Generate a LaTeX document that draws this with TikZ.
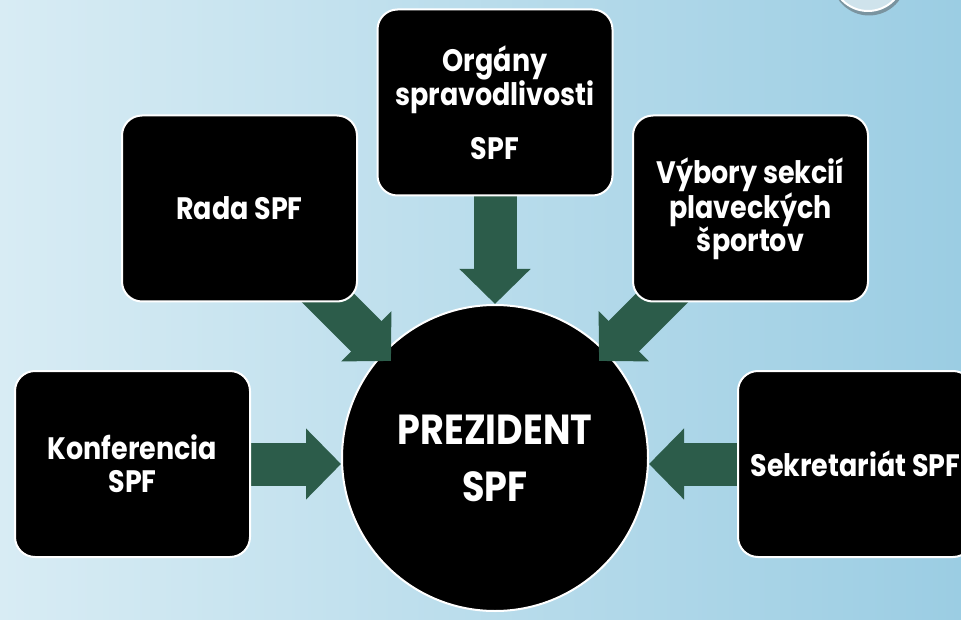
\documentclass[tikz,border=0pt]{standalone}
\usepackage{fontspec}
\setmainfont{Poppins}[FakeStretch=0.87]
\usetikzlibrary{arrows.meta,calc}
\definecolor{bgL}{HTML}{D8ECF4}
\definecolor{bgR}{HTML}{9BCDE3}
\definecolor{btnfill}{HTML}{CFE3EC}
\definecolor{arrowgreen}{RGB}{44,92,74}
\pgfdeclarelayer{bg}
\pgfdeclarelayer{arr}
\pgfsetlayers{bg,arr,main}
\tikzset{
  box/.style={draw=white, line width=2pt, fill=black, text=white, rounded corners=20pt,
    minimum width=235pt, minimum height=186pt, inner sep=0pt, align=center,
    font=\bfseries\fontsize{31}{33}\selectfont},
  hub/.style={circle, draw=white, line width=2pt, fill=black, text=white,
    minimum size=306pt, inner sep=0pt, align=center,
    font=\bfseries\fontsize{42}{57}\selectfont},
  bigarrow/.style={draw=arrowgreen, line width=43pt, -{Triangle[length=35pt,width=69pt]}},
}
\begin{document}
\begin{tikzpicture}[x=1pt,y=-1pt]
\useasboundingbox (0,0) rectangle (961,620);
\clip (0,0) rectangle (961,620);
\begin{pgfonlayer}{bg}
  \shade[left color=bgL, right color=bgR] (0,0) rectangle (961,620);
  \fill[black!70, opacity=0.45] (869,-22) circle (37.5);
  \draw[white, line width=2pt, fill=btnfill] (868,-25) circle (36);
  \node[hub] (pres) at (495,458) {PREZIDENT\\SPF};
\end{pgfonlayer}

\node[box] (konf) at (132.5,464) {Konferencia\\SPF};
\node[box] (rada) at (239.5,208.5) {Rada SPF};
\node[box, font=\bfseries\fontsize{31}{27}\selectfont] (org) at (495,102.5) {Orgány\\spravodlivosti\\[22pt]SPF};
\node[box] (vyb) at (750.5,208.5) {Výbory sekcií\\plaveckých\\športov};
\node[box] (sek) at (855.5,464) {Sekretariát SPF};

\coordinate (radaS) at (313,283);
\coordinate (radaT) at (391,361);
\coordinate (vybS) at (677,283);
\coordinate (vybT) at (599,361);

\begin{pgfonlayer}{arr}
  \draw[bigarrow] (konf.east) -- (konf.east -| pres.west);
  \draw[bigarrow] (sek.west) -- (sek.west -| pres.east);
  \draw[bigarrow] (org.south) -- (pres.north);
  \draw[bigarrow] (radaS) -- (radaT);
  \draw[bigarrow] (vybS) -- (vybT);
\end{pgfonlayer}
\end{tikzpicture}
\end{document}
